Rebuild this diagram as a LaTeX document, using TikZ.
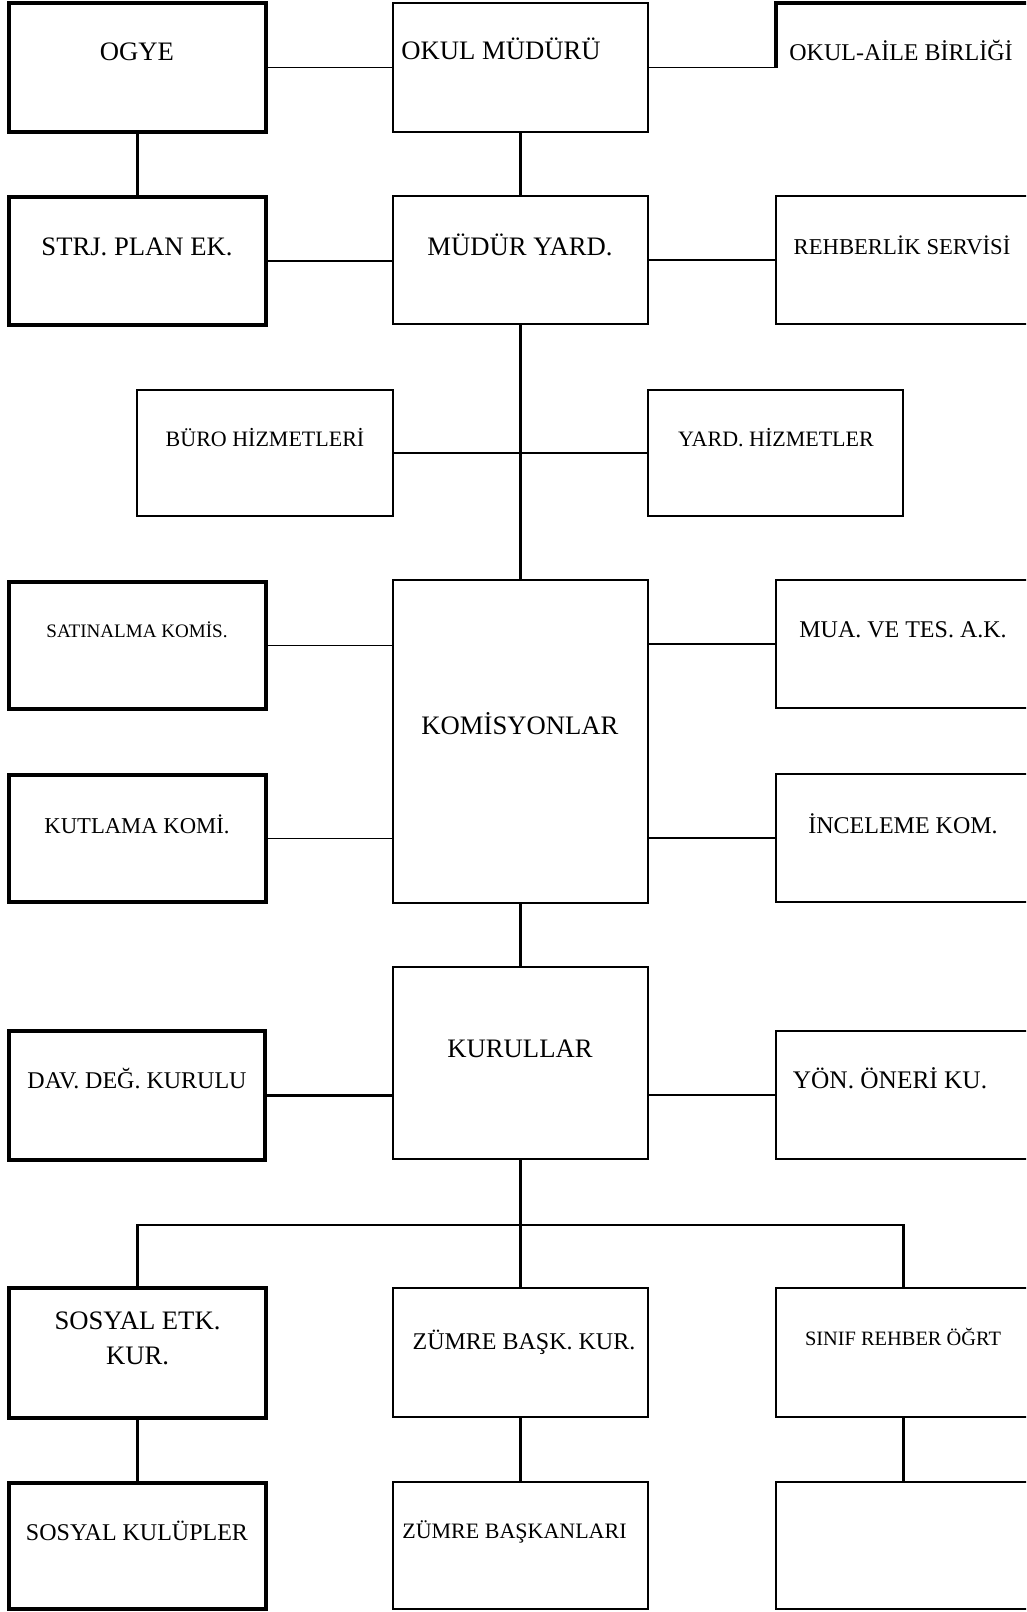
\documentclass[tikz,border=0pt]{standalone}
\usepackage{fontspec}
\setmainfont{Liberation Serif}
\usetikzlibrary{fit}
\begin{document}
\begin{tikzpicture}[x=0.75pt,y=-0.75pt,
  lbox/.style={draw, line width=3pt, inner sep=0pt},
  cbox/.style={draw, line width=2pt, inner sep=0pt},
  rbox/.style={draw, line width=1.6pt, inner sep=0pt},
  hbox/.style={inner sep=0pt},
  conn/.style={line width=1.6pt},
  thinconn/.style={line width=1.1pt},
  lab/.style={anchor=base, inner sep=0pt},
]
\useasboundingbox (0,0) rectangle (1026,1612);
\clip (0,0) rectangle (1026,1612);
% boxes
\node[lbox, fit={(9,3) (266,132)}] (ogye) {};
\node[lbox, fit={(9,197) (266,325)}] (strj) {};
\node[cbox, fit={(393,3) (648,132)}] (mudur) {};
\node[cbox, fit={(393,196) (648,324)}] (myard) {};
\node[hbox, fit={(776,3) (1031,132)}] (oab) {};
\draw[line width=3pt] ([yshift=-49pt]oab.north west) -- (oab.north west) -- (oab.north east);
\node[rbox, fit={(776,196) (1031,324)}] (reh) {};
\node[cbox, fit={(137,390) (393,516)}] (buro) {};
\node[cbox, fit={(648,390) (903,516)}] (yard) {};
\node[lbox, fit={(9,582) (266,709)}] (satin) {};
\node[lbox, fit={(9,775) (266,902)}] (kutl) {};
\node[cbox, fit={(393,580) (648,903)}] (komis) {};
\node[rbox, fit={(776,580) (1031,708)}] (mua) {};
\node[rbox, fit={(776,774) (1031,902)}] (inc) {};
\node[cbox, fit={(393,967) (648,1159)}] (kurul) {};
\node[lbox, fit={(9,1031) (265,1160)}] (dav) {};
\node[rbox, fit={(776,1031) (1031,1159)}] (yon) {};
\node[lbox, fit={(9,1288) (266,1418)}] (sosetk) {};
\node[cbox, fit={(393,1288) (648,1417)}] (zbk) {};
\node[rbox, fit={(776,1288) (1031,1417)}] (sinif) {};
\node[lbox, fit={(9,1483) (266,1609)}] (soskul) {};
\node[cbox, fit={(393,1482) (648,1609)}] (zbas) {};
\node[rbox, fit={(776,1482) (1031,1609)}] (blank) {};
% connectors
\draw[thinconn] (ogye) -- (mudur);
\draw[thinconn] (mudur) -- (oab);
\draw[conn] (ogye) -- (strj);
\draw[conn] (mudur) -- (myard);
\draw[conn] (strj.east) -- (strj.east -| myard.west);
\draw[conn] (myard) -- (reh);
\draw[conn] (myard) -- (komis);
\draw[conn] (buro) -- (yard);
\draw[thinconn] (satin.east) -- (satin.east -| komis.west);
\draw[thinconn] (mua.west -| komis.east) -- (mua.west);
\draw[thinconn] (kutl.east) -- (kutl.east -| komis.west);
\draw[thinconn] (inc.west -| komis.east) -- (inc.west);
\draw[conn] (komis) -- (kurul);
\draw[conn] (dav.east) -- (dav.east -| kurul.west);
\draw[conn] (yon.west -| kurul.east) -- (yon.west);
\coordinate (bus) at (520.5,1225);
\draw[conn] (kurul.south) -- (bus);
\draw[conn] (sosetk.north) |- (bus) -| (sinif.north);
\draw[conn] (bus) -- (zbk.north);
\draw[conn] (sosetk) -- (soskul);
\draw[conn] (zbk) -- (zbas);
\draw[conn] (sinif) -- (blank);
% labels
\node[lab, font=\fontsize{20}{24}\selectfont] (t1) at (137,61) {OGYE};
\node[lab, font=\fontsize{20}{24}\selectfont] (t2) at (501,60) {OKUL MÜDÜRÜ};
\node[lab, font=\fontsize{18}{22}\selectfont] (t3) at (901,61) {OKUL-AİLE BİRLİĞİ};
\node[lab, font=\fontsize{20}{24}\selectfont] (t4) at (137,256) {STRJ. PLAN EK.};
\node[lab, font=\fontsize{20}{24}\selectfont] (t5) at (520,255) {MÜDÜR YARD.};
\node[lab, font=\fontsize{17}{21}\selectfont] (t6) at (902,254) {REHBERLİK SERVİSİ};
\node[lab, font=\fontsize{16.5}{20}\selectfont] (t7) at (265,446) {BÜRO HİZMETLERİ};
\node[lab, font=\fontsize{16.5}{20}\selectfont] (t8) at (776,446) {YARD. HİZMETLER};
\node[lab, font=\fontsize{14.3}{18}\selectfont] (t9) at (137,637) {SATINALMA KOMİS.};
\node[lab, font=\fontsize{17}{21}\selectfont] (t10) at (137,833) {KUTLAMA KOMİ.};
\node[lab, font=\fontsize{20}{24}\selectfont] (t11) at (520,734) {KOMİSYONLAR};
\node[lab, font=\fontsize{18}{22}\selectfont] (t12) at (903,637) {MUA. VE TES. A.K.};
\node[lab, font=\fontsize{18}{22}\selectfont] (t13) at (903,833) {İNCELEME KOM.};
\node[lab, font=\fontsize{20}{24}\selectfont] (t14) at (520,1057) {KURULLAR};
\node[lab, font=\fontsize{18}{22}\selectfont] (t15) at (137,1088) {DAV. DEĞ. KURULU};
\node[lab, font=\fontsize{19}{23}\selectfont] (t16) at (890,1088) {YÖN. ÖNERİ KU.};
\node[lab, font=\fontsize{20}{24}\selectfont] (t17) at (137.5,1329) {SOSYAL ETK.};
\node[lab, font=\fontsize{20}{24}\selectfont] (t18) at (137.5,1364) {KUR.};
\node[lab, font=\fontsize{18}{22}\selectfont] (t19) at (524,1349) {ZÜMRE BAŞK. KUR.};
\node[lab, font=\fontsize{15.3}{19}\selectfont] (t20) at (903,1345) {SINIF REHBER ÖĞRT};
\node[lab, font=\fontsize{18}{22}\selectfont] (t21) at (137,1540) {SOSYAL KULÜPLER};
\node[lab, font=\fontsize{16.5}{20}\selectfont] (t22) at (514.5,1538) {ZÜMRE BAŞKANLARI};
\end{tikzpicture}
\end{document}
